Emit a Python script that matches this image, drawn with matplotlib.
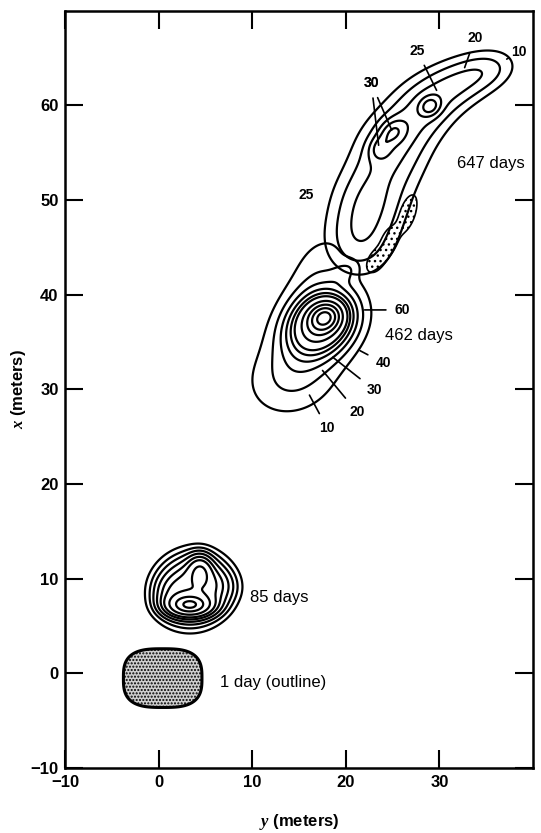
import numpy as np
import matplotlib.pyplot as plt

# ------------------- plume data -------------------
# each plume is described as a few concentration lobes:
# centre (y, x) in meters, peak value, spread along / across, heading (deg)
p462_y   = [17.8, 17.4, 14.2, 16.2, 17.2, 20.0]
p462_x   = [37.7, 37.0, 31.0, 36.0, 43.2, 42.5]
p462_amp = [55, 85, 16, 16, 12, 12]
p462_su  = [1.2, 2.6, 3.6, 4.3, 3.2, 1.1]
p462_sv  = [1.0, 2.1, 2.8, 2.7, 2.2, 0.7]
p462_ang = [20, 35, 15, 60, 60, 30]
levels_462 = [10, 20, 30, 40, 50, 60, 80, 100, 120, 140]

p647_y   = [21.2, 22.5, 24.8, 28.0, 32.0, 35.8, 25.0, 23.6, 29.0]
p647_x   = [45.0, 50.0, 55.2, 59.5, 62.4, 64.0, 57.2, 55.4, 59.9]
p647_amp = [15, 16, 16, 16, 15, 11, 10, 8, 11]
p647_su  = [3.0, 3.0, 3.0, 3.0, 3.0, 2.6, 1.1, 0.9, 0.8]
p647_sv  = [3.2, 3.3, 3.3, 2.7, 2.2, 1.8, 0.9, 0.8, 0.7]
p647_ang = [75, 72, 58, 35, 20, 15, 40, 60, 30]
levels_647 = [10, 15, 20, 25, 30]

# dotted (stippled) patches in the lower part of the 647-day plume
dots_y   = [26.6, 24.6, 23.2]
dots_x   = [48.6, 45.6, 43.6]
dots_amp = [10, 10, 10]
dots_su  = [1.5, 1.2, 1.0]
dots_sv  = [0.6, 0.6, 0.6]
dots_ang = [72, 70, 60]

p85_y   = [3.6, 3.3, 4.4, 1.4, 5.6]
p85_x   = [8.9, 7.2, 10.9, 8.4, 9.4]
p85_amp = [55, 120, 40, 14, 14]
p85_su  = [2.4, 1.4, 1.0, 1.2, 1.2]
p85_sv  = [2.2, 0.7, 0.8, 1.1, 1.6]
p85_ang = [20, 0, 90, 80, 80]
levels_85 = [6, 10, 15, 22, 32, 45, 70, 110, 150]

# 1-day outline: centre and half sizes
day1_y, day1_x = 0.4, -0.5
day1_hy, day1_hx = 4.2, 3.1

xticks = [-10, 0, 10, 20, 30]
yticks = [-10, 0, 10, 20, 30, 40, 50, 60]

# ------------------- field helper -------------------
gy, gx = np.meshgrid(np.linspace(-10, 40, 501), np.linspace(-10, 70, 801))


def lobes(ys, xs, amps, sus, svs, angs):
    c = np.zeros_like(gy)
    for y0, x0, a, su, sv, th in zip(ys, xs, amps, sus, svs, angs):
        t = np.radians(th)
        u = (gy - y0) * np.cos(t) + (gx - x0) * np.sin(t)
        v = -(gy - y0) * np.sin(t) + (gx - x0) * np.cos(t)
        c += a * np.exp(-0.5 * ((u / su) ** 2 + (v / sv) ** 2))
    return c


plt.rcParams['font.family'] = ['Liberation Sans', 'DejaVu Sans']
plt.rcParams['mathtext.fontset'] = 'custom'
plt.rcParams['mathtext.it'] = 'Liberation Serif:italic:bold'
plt.rcParams['hatch.linewidth'] = 1.0

fig = plt.figure(figsize=(5.41, 8.33), dpi=100)
ax = fig.add_axes([0.121, 0.078, 0.864, 0.909])

lw = 1.6
ax.contour(gy, gx, lobes(p462_y, p462_x, p462_amp, p462_su, p462_sv, p462_ang),
           levels=levels_462, colors='black', linewidths=lw)
ax.contour(gy, gx, lobes(p647_y, p647_x, p647_amp, p647_su, p647_sv, p647_ang),
           levels=levels_647, colors='black', linewidths=lw)
dots = lobes(dots_y, dots_x, dots_amp, dots_su, dots_sv, dots_ang)
ax.contourf(gy, gx, dots, levels=[4, 100], colors='white', hatches=['...'])
ax.contour(gy, gx, dots, levels=[4], colors='black', linewidths=1.2)
ax.contour(gy, gx, lobes(p85_y, p85_x, p85_amp, p85_su, p85_sv, p85_ang),
           levels=levels_85, colors='black', linewidths=lw)

# 1-day tracer slug, stippled
r = np.abs((gy - day1_y) / day1_hy) ** 3 + np.abs((gx - day1_x) / day1_hx) ** 3
ax.contourf(gy, gx, r, levels=[0, 1], colors=['#cfcfcf'], hatches=['.....'])
ax.contour(gy, gx, r, levels=[1], colors='black', linewidths=2.2)

# ------------------- labels -------------------
tkw = dict(fontsize=12, color='black')
ax.text(31.9, 53.9, '647 days', va='center', **tkw)
ax.text(24.2, 35.7, '462 days', va='center', **tkw)
ax.text(9.7, 8.0, '85 days', va='center', **tkw)
ax.text(6.5, -1.0, '1 day (outline)', va='center', **tkw)

lkw = dict(fontsize=10, fontweight='bold', ha='center', va='center',
           arrowprops=dict(arrowstyle='-', color='black', lw=1.2, shrinkA=4, shrinkB=0))
ax.annotate('10', xy=(37.2, 64.9), xytext=(38.5, 65.6), **lkw)
ax.annotate('20', xy=(32.7, 64.0), xytext=(33.8, 67.1), **lkw)
ax.annotate('25', xy=(29.7, 61.6), xytext=(27.6, 65.8), **lkw)
ax.annotate('30', xy=(24.9, 57.4), xytext=(22.7, 62.4), **lkw)
ax.annotate('30', xy=(23.5, 55.8), xytext=(22.7, 62.4), **lkw)
ax.text(15.8, 50.5, '25', fontsize=10, fontweight='bold', ha='center', va='center')
ax.annotate('60', xy=(22.0, 38.4), xytext=(26.0, 38.4), **lkw)
ax.annotate('40', xy=(21.5, 34.1), xytext=(24.0, 32.8), **lkw)
ax.annotate('30', xy=(18.6, 33.4), xytext=(23.1, 29.9), **lkw)
ax.annotate('20', xy=(17.5, 32.0), xytext=(21.2, 27.6), **lkw)
ax.annotate('10', xy=(16.1, 29.4), xytext=(18.0, 25.9), **lkw)

# ------------------- axes -------------------
ax.set_xlim(-10, 40)
ax.set_ylim(-10, 70)
ax.set_xticks(xticks)
ax.set_yticks(yticks)
ax.set_xticklabels(['\u221210' if t < 0 else str(t) for t in xticks], fontweight='bold')
ax.set_yticklabels(['\u221210' if t < 0 else str(t) for t in yticks], fontweight='bold')
ax.tick_params(direction='in', length=13, width=1.5, top=True, right=True,
               labelsize=12, pad=5)
for s in ax.spines.values():
    s.set_linewidth(1.8)
ax.set_xlabel(r'$\mathit{y}$ (meters)', fontsize=12, fontweight='bold', labelpad=16)
ax.set_ylabel(r'$\mathit{x}$ (meters)', fontsize=12, fontweight='bold', labelpad=2)

fig.savefig('out.png', dpi=100)
